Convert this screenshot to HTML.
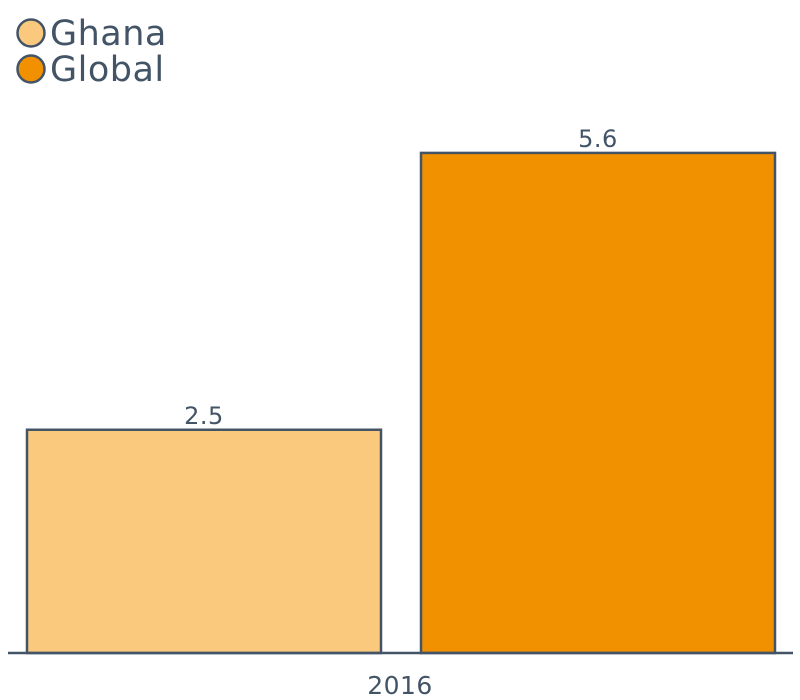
<!DOCTYPE html>
<html><head><meta charset="utf-8"><style>
body{margin:0;background:#fff;}
svg{display:block;font-family:"DejaVu Sans","Liberation Sans",sans-serif;}
</style></head><body>
<svg id="chart" width="800" height="700">
<g>
<g>
<circle cx="31" cy="33" r="13.5" fill="#fbc97e" stroke="#435466" stroke-width="2.5"/>
<text x="50" y="45" font-size="35" letter-spacing="0.5" fill="#435466">Ghana</text></g>
<g>
<circle cx="31" cy="69" r="13.5" fill="#f29100" stroke="#435466" stroke-width="2.5"/>
<text x="50" y="81" font-size="35" letter-spacing="0.5" fill="#435466">Global</text></g>
</g>
<g id="bars"></g>
<line x1="8" y1="653" x2="793" y2="653" stroke="#435466" stroke-width="2.5"/>
<text x="400" y="694" font-size="25" letter-spacing="0.5" fill="#435466" text-anchor="middle">2016</text>
</svg>
<script>
const categories = ["Ghana", "Global"];
const values = [2.5, 5.6];
const labels = ["2.5", "5.6"];
const colors = ["#fbc97e", "#f29100"];
const names = ["bar-ghana", "bar-global"];
const baseY = 653, pxPerUnit = 89.3;
function y(v){return baseY - v*pxPerUnit;}
function x(i){return 27 + i*394;}
const g = document.getElementById('bars');
const NS = "http://www.w3.org/2000/svg";
values.forEach((v,i)=>{
  const r = document.createElementNS(NS,'rect');
  r.setAttribute('x', x(i)); r.setAttribute('y', y(v));
  r.setAttribute('width', 354); r.setAttribute('height', baseY - y(v));
  r.setAttribute('fill', colors[i]); r.setAttribute('stroke', '#435466'); r.setAttribute('stroke-width', 2.5);
  
  
  g.appendChild(r);
  const t = document.createElementNS(NS,'text');
  t.setAttribute('x', x(i)+177); t.setAttribute('y', y(v)-6);
  t.setAttribute('font-size', 24); t.setAttribute('letter-spacing', 0.5); t.setAttribute('fill', '#435466'); t.setAttribute('text-anchor','middle');
  t.textContent = labels[i];
  
  
  g.appendChild(t);
});
</script>
</body></html>
